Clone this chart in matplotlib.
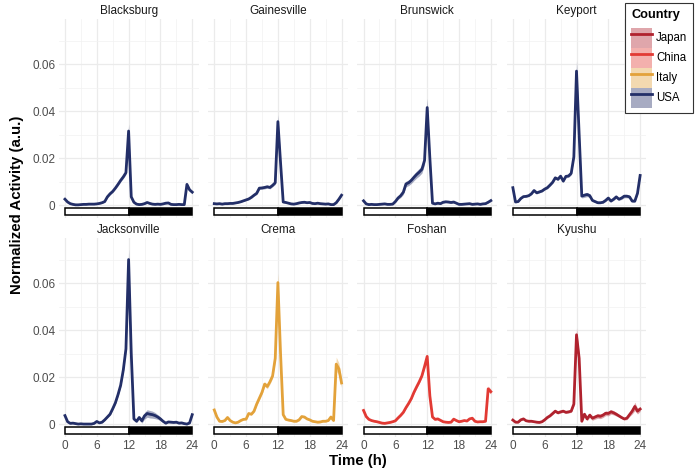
import numpy as np
import matplotlib
matplotlib.use("Agg")
import matplotlib.pyplot as plt
from matplotlib.patches import Rectangle, Patch
from matplotlib.lines import Line2D

plt.rcParams["font.family"] = ["Liberation Sans", "DejaVu Sans"]

# ---------------- data ----------------
hours = np.arange(0, 24.01, 0.5)  # 0, 0.5, ..., 24

blacksburg = [0.0025, 0.0013, 0.0006, 0.0003, 0.0001, 0.0001, 0.0002, 0.0003, 0.0003, 0.0004, 0.0004, 0.0004,
              0.0005, 0.0007, 0.0010, 0.0015, 0.0035, 0.0048, 0.0058, 0.0072, 0.0088, 0.0105, 0.0120, 0.0138,
              0.0315, 0.0035, 0.0012, 0.0004, 0.0002, 0.0003, 0.0006, 0.0011, 0.0007, 0.0004, 0.0003, 0.0004,
              0.0003, 0.0005, 0.0008, 0.0009, 0.0003, 0.0002, 0.0002, 0.0003, 0.0002, 0.0002, 0.0088, 0.0065,
              0.0055]
se_blacksburg = [0.0003, 0.0002, 0.0002, 0.0002, 0.0002, 0.0002, 0.0002, 0.0002, 0.0002, 0.0002, 0.0002, 0.0002,
                 0.0002, 0.0002, 0.0003, 0.0003, 0.0004, 0.0005, 0.0005, 0.0005, 0.0006, 0.0006, 0.0007, 0.0008,
                 0.0030, 0.0008, 0.0003, 0.0002, 0.0002, 0.0002, 0.0003, 0.0003, 0.0003, 0.0002, 0.0002, 0.0002,
                 0.0002, 0.0002, 0.0003, 0.0003, 0.0002, 0.0002, 0.0002, 0.0002, 0.0002, 0.0002, 0.0008, 0.0006,
                 0.0005]

gainesville = [0.0006, 0.0005, 0.0006, 0.0004, 0.0006, 0.0006, 0.0007, 0.0007, 0.0009, 0.0011, 0.0014, 0.0018,
               0.0022, 0.0026, 0.0033, 0.0042, 0.0050, 0.0072, 0.0073, 0.0075, 0.0078, 0.0075, 0.0084, 0.0095,
               0.0355, 0.0180, 0.0013, 0.0011, 0.0008, 0.0005, 0.0004, 0.0006, 0.0009, 0.0011, 0.0012, 0.0010,
               0.0011, 0.0007, 0.0006, 0.0008, 0.0006, 0.0005, 0.0004, 0.0005, 0.0002, 0.0002, 0.0010, 0.0025,
               0.0042]
se_gainesville = [0.0002, 0.0002, 0.0002, 0.0002, 0.0002, 0.0002, 0.0002, 0.0002, 0.0002, 0.0002, 0.0002, 0.0002,
                  0.0003, 0.0003, 0.0004, 0.0004, 0.0005, 0.0006, 0.0006, 0.0006, 0.0006, 0.0006, 0.0006, 0.0007,
                  0.0030, 0.0015, 0.0003, 0.0003, 0.0002, 0.0002, 0.0002, 0.0002, 0.0003, 0.0003, 0.0003, 0.0003,
                  0.0003, 0.0002, 0.0002, 0.0002, 0.0002, 0.0002, 0.0002, 0.0002, 0.0002, 0.0002, 0.0003, 0.0004,
                  0.0005]

brunswick = [0.0018, 0.0005, 0.0002, 0.0003, 0.0002, 0.0002, 0.0003, 0.0004, 0.0005, 0.0003, 0.0003, 0.0004,
             0.0015, 0.0030, 0.0040, 0.0055, 0.0090, 0.0095, 0.0105, 0.0118, 0.0130, 0.0140, 0.0152, 0.0190,
             0.0415, 0.0200, 0.0008, 0.0005, 0.0008, 0.0006, 0.0012, 0.0014, 0.0013, 0.0011, 0.0013, 0.0008,
             0.0003, 0.0003, 0.0004, 0.0005, 0.0006, 0.0003, 0.0004, 0.0005, 0.0003, 0.0005, 0.0006, 0.0012,
             0.0019]
se_brunswick = [0.0003, 0.0002, 0.0002, 0.0002, 0.0002, 0.0002, 0.0002, 0.0002, 0.0002, 0.0002, 0.0002, 0.0002,
                0.0003, 0.0006, 0.0008, 0.0010, 0.0012, 0.0012, 0.0013, 0.0014, 0.0015, 0.0016, 0.0016, 0.0018,
                0.0040, 0.0020, 0.0003, 0.0003, 0.0003, 0.0003, 0.0004, 0.0004, 0.0004, 0.0004, 0.0004, 0.0003,
                0.0002, 0.0002, 0.0002, 0.0002, 0.0002, 0.0002, 0.0002, 0.0002, 0.0002, 0.0002, 0.0002, 0.0003,
                0.0003]

keyport = [0.0074, 0.0013, 0.0015, 0.0028, 0.0036, 0.0037, 0.0040, 0.0048, 0.0062, 0.0052, 0.0056, 0.0060,
           0.0068, 0.0074, 0.0085, 0.0097, 0.0116, 0.0110, 0.0123, 0.0102, 0.0122, 0.0124, 0.0135, 0.0205,
           0.0570, 0.0300, 0.0038, 0.0042, 0.0045, 0.0040, 0.0020, 0.0015, 0.0010, 0.0010, 0.0012, 0.0020,
           0.0030, 0.0017, 0.0025, 0.0035, 0.0025, 0.0030, 0.0038, 0.0038, 0.0035, 0.0017, 0.0017, 0.0050,
           0.0126]
se_keyport = [0.0005, 0.0003, 0.0003, 0.0003, 0.0003, 0.0003, 0.0003, 0.0004, 0.0004, 0.0004, 0.0004, 0.0004,
              0.0004, 0.0005, 0.0005, 0.0005, 0.0006, 0.0006, 0.0006, 0.0006, 0.0006, 0.0006, 0.0007, 0.0010,
              0.0045, 0.0025, 0.0008, 0.0009, 0.0009, 0.0008, 0.0005, 0.0004, 0.0004, 0.0004, 0.0004, 0.0005,
              0.0005, 0.0004, 0.0005, 0.0006, 0.0005, 0.0006, 0.0007, 0.0007, 0.0006, 0.0005, 0.0005, 0.0006,
              0.0008]

jacksonville = [0.0036, 0.0010, 0.0003, 0.0004, 0.0002, 0.0000, 0.0001, 0.0000, 0.0000, 0.0000, 0.0000, 0.0003,
                0.0011, 0.0005, 0.0008, 0.0018, 0.0030, 0.0042, 0.0065, 0.0090, 0.0125, 0.0165, 0.0230, 0.0320,
                0.0700, 0.0300, 0.0022, 0.0012, 0.0028, 0.0014, 0.0035, 0.0045, 0.0042, 0.0040, 0.0036, 0.0030,
                0.0022, 0.0012, 0.0004, 0.0009, 0.0008, 0.0007, 0.0008, 0.0004, 0.0005, 0.0002, 0.0000, 0.0005,
                0.0040]
se_jacksonville = [0.0004, 0.0002, 0.0002, 0.0002, 0.0002, 0.0002, 0.0002, 0.0002, 0.0002, 0.0002, 0.0002, 0.0002,
                   0.0002, 0.0002, 0.0003, 0.0003, 0.0004, 0.0005, 0.0005, 0.0006, 0.0007, 0.0008, 0.0010, 0.0012,
                   0.0045, 0.0020, 0.0005, 0.0005, 0.0008, 0.0010, 0.0014, 0.0016, 0.0016, 0.0015, 0.0013, 0.0010,
                   0.0008, 0.0005, 0.0004, 0.0003, 0.0003, 0.0003, 0.0003, 0.0003, 0.0003, 0.0003, 0.0003, 0.0003,
                   0.0004]

crema = [0.0060, 0.0030, 0.0012, 0.0011, 0.0015, 0.0028, 0.0015, 0.0008, 0.0005, 0.0008, 0.0015, 0.0020,
         0.0021, 0.0045, 0.0042, 0.0055, 0.0085, 0.0110, 0.0135, 0.0170, 0.0160, 0.0180, 0.0205, 0.0280,
         0.0602, 0.0300, 0.0040, 0.0020, 0.0017, 0.0015, 0.0012, 0.0012, 0.0018, 0.0032, 0.0030, 0.0022,
         0.0018, 0.0012, 0.0010, 0.0008, 0.0009, 0.0012, 0.0012, 0.0015, 0.0030, 0.0015, 0.0255, 0.0235,
         0.0175]
se_crema = [0.0004, 0.0003, 0.0002, 0.0002, 0.0002, 0.0002, 0.0002, 0.0002, 0.0002, 0.0002, 0.0002, 0.0002,
            0.0003, 0.0004, 0.0004, 0.0005, 0.0007, 0.0008, 0.0009, 0.0010, 0.0010, 0.0010, 0.0010, 0.0012,
            0.0040, 0.0020, 0.0004, 0.0003, 0.0003, 0.0003, 0.0003, 0.0003, 0.0004, 0.0004, 0.0004, 0.0003,
            0.0003, 0.0003, 0.0003, 0.0003, 0.0003, 0.0003, 0.0003, 0.0003, 0.0003, 0.0003, 0.0030, 0.0025,
            0.0020]

foshan = [0.0058, 0.0032, 0.0020, 0.0015, 0.0012, 0.0010, 0.0007, 0.0004, 0.0003, 0.0005, 0.0007, 0.0010,
          0.0014, 0.0026, 0.0037, 0.0050, 0.0070, 0.0088, 0.0108, 0.0135, 0.0158, 0.0180, 0.0205, 0.0245,
          0.0288, 0.0120, 0.0030, 0.0020, 0.0022, 0.0016, 0.0010, 0.0008, 0.0007, 0.0008, 0.0021, 0.0015,
          0.0010, 0.0012, 0.0015, 0.0013, 0.0022, 0.0025, 0.0012, 0.0009, 0.0010, 0.0010, 0.0012, 0.0150,
          0.0138]
se_foshan = [0.0003, 0.0003, 0.0002, 0.0002, 0.0002, 0.0002, 0.0002, 0.0002, 0.0002, 0.0002, 0.0002, 0.0002,
             0.0002, 0.0003, 0.0003, 0.0004, 0.0004, 0.0005, 0.0005, 0.0006, 0.0006, 0.0007, 0.0007, 0.0008,
             0.0012, 0.0006, 0.0004, 0.0003, 0.0003, 0.0003, 0.0003, 0.0002, 0.0002, 0.0002, 0.0003, 0.0003,
             0.0002, 0.0002, 0.0002, 0.0002, 0.0002, 0.0002, 0.0002, 0.0002, 0.0002, 0.0002, 0.0002, 0.0012,
             0.0010]

kyushu = [0.0017, 0.0008, 0.0008, 0.0018, 0.0022, 0.0014, 0.0012, 0.0012, 0.0010, 0.0008, 0.0007, 0.0010,
          0.0018, 0.0028, 0.0035, 0.0045, 0.0055, 0.0048, 0.0052, 0.0055, 0.0050, 0.0052, 0.0055, 0.0085,
          0.0380, 0.0280, 0.0012, 0.0042, 0.0022, 0.0038, 0.0025, 0.0030, 0.0035, 0.0033, 0.0038, 0.0046,
          0.0045, 0.0052, 0.0048, 0.0042, 0.0035, 0.0028, 0.0022, 0.0025, 0.0040, 0.0055, 0.0075, 0.0055,
          0.0064]
se_kyushu = [0.0003, 0.0003, 0.0003, 0.0003, 0.0003, 0.0003, 0.0003, 0.0003, 0.0003, 0.0003, 0.0003, 0.0003,
             0.0003, 0.0004, 0.0004, 0.0005, 0.0005, 0.0005, 0.0005, 0.0005, 0.0005, 0.0005, 0.0005, 0.0008,
             0.0030, 0.0020, 0.0006, 0.0008, 0.0008, 0.0009, 0.0009, 0.0009, 0.0010, 0.0010, 0.0010, 0.0010,
             0.0010, 0.0010, 0.0009, 0.0008, 0.0006, 0.0005, 0.0005, 0.0006, 0.0008, 0.0012, 0.0018, 0.0012,
             0.0010]

sites = ["Blacksburg", "Gainesville", "Brunswick", "Keyport",
         "Jacksonville", "Crema", "Foshan", "Kyushu"]
site_country = ["USA", "USA", "USA", "USA", "USA", "Italy", "China", "Japan"]
site_values = [blacksburg, gainesville, brunswick, keyport, jacksonville, crema, foshan, kyushu]
site_se = [se_blacksburg, se_gainesville, se_brunswick, se_keyport,
           se_jacksonville, se_crema, se_foshan, se_kyushu]

countries = ["Japan", "China", "Italy", "USA"]
country_colors = {"Japan": "#B0222E", "China": "#E23A34", "Italy": "#E3A23A", "USA": "#232F68"}

x_ticks = [0, 6, 12, 18, 24]
x_ticklabels = ["0", "6", "12", "18", "24"]
y_ticks = [0, 0.02, 0.04, 0.06]
y_ticklabels = ["0", "0.02", "0.04", "0.06"]

# ---------------- layout ----------------
W, H = 700, 475
fig = plt.figure(figsize=(7, 4.75), dpi=100)
col_left = [58.6, 207.9, 357.2, 506.5]
panel_w = 140
rows = [(19.4, 218.0), (238.4, 437.0)]

for i, name in enumerate(sites):
    r, c = divmod(i, 4)
    top, bot = rows[r]
    ax = fig.add_axes([col_left[c] / W, 1 - bot / H, panel_w / W, (bot - top) / H])
    ax.set_xlim(-1.2, 25.2)
    ax.set_ylim(-0.0055, 0.079)
    ax.set_xticks(x_ticks)
    ax.set_xticks([3, 9, 15, 21], minor=True)
    ax.set_yticks(y_ticks)
    ax.set_yticks([0.01, 0.03, 0.05, 0.07], minor=True)
    ax.grid(which="major", color="#EBEBEB", lw=0.9, zorder=0)
    ax.grid(which="minor", color="#F2F2F2", lw=0.5, zorder=0)
    ax.set_axisbelow(True)
    for s in ax.spines.values():
        s.set_visible(False)
    ax.tick_params(which="both", length=0, labelsize=8.5, labelcolor="#4D4D4D", pad=2.5)
    if c == 0:
        ax.set_yticklabels(y_ticklabels)
    else:
        ax.set_yticklabels([])
    if r == 1:
        ax.set_xticklabels(x_ticklabels)
    else:
        ax.set_xticklabels([])

    col = country_colors[site_country[i]]
    v = np.array(site_values[i])
    se = np.array(site_se[i])
    ax.fill_between(hours, v - se, v + se, color=col, alpha=0.4, lw=0, zorder=2)
    ax.plot(hours, v, color=col, lw=2.0, solid_joinstyle="round", zorder=3)

    # light / dark bar
    ax.add_patch(Rectangle((0, -0.0044), 12, 0.0032, fc="white", ec="black", lw=1.1, zorder=4))
    ax.add_patch(Rectangle((12, -0.0044), 12, 0.0032, fc="black", ec="black", lw=1.1, zorder=4))

    ax.set_title(name, fontsize=8.5, color="#1A1A1A", pad=4)

fig.text(17 / W, 1 - 205 / H, "Normalized Activity (a.u.)", rotation=90, fontsize=10.8,
         fontweight="bold", ha="center", va="center")
fig.text(358 / W, 1 - 461 / H, "Time (h)", fontsize=10.8, fontweight="bold",
         ha="center", va="center")

handles = [(Patch(fc=country_colors[k], alpha=0.4, ec="none"),
            Line2D([], [], color=country_colors[k], lw=2.0)) for k in countries]
leg = fig.legend(handles, countries, loc="upper right", bbox_to_anchor=(693 / W, 1 - 3 / H),
                 borderaxespad=0, fontsize=8.3, title="Country",
                 title_fontproperties={"weight": "bold", "size": 9.2},
                 handlelength=1.8, handleheight=2.29, labelspacing=0, handletextpad=0.35,
                 borderpad=0.5, fancybox=False, framealpha=1, edgecolor="#333333",
                 alignment="left")
leg._legend_box.sep = 5.0  # gap between legend title and keys (points)
leg.get_frame().set_linewidth(0.8)

fig.savefig("out.png", dpi=100)
